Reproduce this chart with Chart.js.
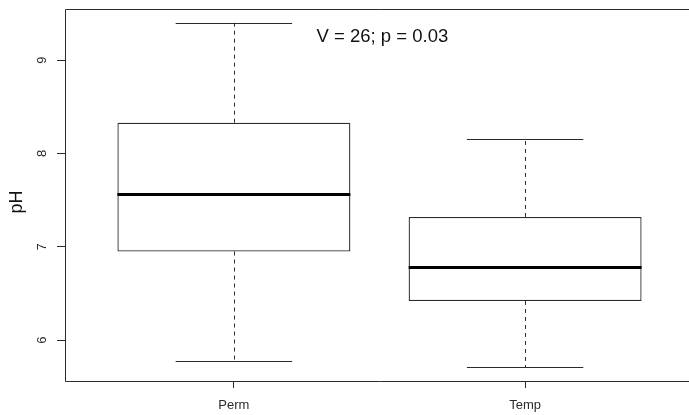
<!DOCTYPE html>
<html>
<head>
<meta charset="utf-8">
<title>pH by site type</title>
<script src="https://cdn.jsdelivr.net/npm/chart.js@4/dist/chart.umd.min.js"></script>
<style>
    html, body {
        margin: 0;
        padding: 0;
        background: #ffffff;
        overflow: hidden;
    }
    .plot-wrap {
        width: 689px;
        height: 415px;
        overflow: hidden;
    }
    #phChart {
        display: block;
    }
</style>
</head>
<body>
<div class="plot-wrap">
    <canvas id="phChart" width="700" height="415"></canvas>
</div>
<script>
// Five-number summaries per group
const groups = ['Perm', 'Temp'];
const whiskerLow = [5.78, 5.71];
const lowerQuartile = [6.95, 6.42];
const medians = [7.57, 6.78];
const upperQuartile = [8.33, 7.32];
const whiskerHigh = [9.40, 8.15];
const yTicks = [6, 7, 8, 9];
const testLabel = 'V = 26; p = 0.03';
const testLabelAt = [1.51, 9.25];

const FONT = "'Liberation Sans', Arial, sans-serif";
const INK = '#2b2b2b';

document.addEventListener('DOMContentLoaded', function() {
    // R-style axis limits: data range padded by 4%
    const lo = Math.min(...whiskerLow);
    const hi = Math.max(...whiskerHigh);
    const yPad = (hi - lo) * 0.04;
    const xPad = groups.length * 0.04;

    const boxData = groups.map((g, i) => ({ x: i + 1, y: [lowerQuartile[i], upperQuartile[i]] }));

    // Whiskers, staples, medians, frame and labels
    const boxplotExtras = {
        id: 'boxplotExtras',
        afterDatasetsDraw(chart) {
            const ctx = chart.ctx;
            const xs = chart.scales.x;
            const ys = chart.scales.y;
            const area = chart.chartArea;

            ctx.save();
            groups.forEach((g, i) => {
                const pos = i + 1;
                const cx = Math.round(xs.getPixelForValue(pos)) + 0.5;
                const capL = xs.getPixelForValue(pos - 0.2);
                const capR = xs.getPixelForValue(pos + 0.2);
                const boxL = xs.getPixelForValue(pos - 0.4);
                const boxR = xs.getPixelForValue(pos + 0.4);

                // dashed whiskers
                ctx.strokeStyle = INK;
                ctx.lineWidth = 1;
                ctx.setLineDash([4, 4]);
                ctx.beginPath();
                ctx.moveTo(cx, ys.getPixelForValue(upperQuartile[i]));
                ctx.lineTo(cx, ys.getPixelForValue(whiskerHigh[i]));
                ctx.moveTo(cx, ys.getPixelForValue(lowerQuartile[i]));
                ctx.lineTo(cx, ys.getPixelForValue(whiskerLow[i]));
                ctx.stroke();

                // staples
                ctx.setLineDash([]);
                ctx.beginPath();
                [whiskerHigh[i], whiskerLow[i]].forEach(v => {
                    const y = Math.round(ys.getPixelForValue(v)) + 0.5;
                    ctx.moveTo(capL, y);
                    ctx.lineTo(capR, y);
                });
                ctx.stroke();

                // median
                ctx.strokeStyle = '#000000';
                ctx.lineWidth = 3;
                ctx.beginPath();
                const my = Math.round(ys.getPixelForValue(medians[i]));
                ctx.moveTo(boxL, my + 0.5);
                ctx.lineTo(boxR, my + 0.5);
                ctx.stroke();
            });

            // plot frame (right side falls outside the visible page)
            const fl = Math.round(area.left) + 0.5;
            const ft = Math.round(area.top) + 0.5;
            const fb = Math.round(area.bottom) + 0.5;
            ctx.strokeStyle = INK;
            ctx.lineWidth = 1;
            ctx.beginPath();
            ctx.moveTo(area.right, ft);
            ctx.lineTo(fl, ft);
            ctx.lineTo(fl, fb);
            ctx.lineTo(area.right, fb);
            ctx.stroke();

            // test statistic
            ctx.fillStyle = '#111111';
            ctx.font = '18.5px ' + FONT;
            ctx.textAlign = 'center';
            ctx.textBaseline = 'middle';
            ctx.fillText(testLabel, xs.getPixelForValue(testLabelAt[0]), ys.getPixelForValue(testLabelAt[1]));

            // y axis title
            ctx.font = '18px ' + FONT;
            ctx.translate(17, 202);
            ctx.rotate(-Math.PI / 2);
            ctx.fillText('pH', 0, 0);
            ctx.restore();
        }
    };

    const phCtx = document.getElementById('phChart').getContext('2d');
    const phChart = new Chart(phCtx, {
        type: 'bar',
        data: {
            datasets: [
                {
                    label: 'pH',
                    data: boxData,
                    backgroundColor: '#ffffff',
                    borderColor: INK,
                    borderWidth: 1.3,
                    borderSkipped: false,
                    barPercentage: 0.8,
                    categoryPercentage: 1
                }
            ]
        },
        options: {
            responsive: false,
            animation: false,
            layout: {
                padding: { left: 0, top: 9, right: 6, bottom: 0 }
            },
            plugins: {
                legend: { display: false },
                tooltip: { enabled: false }
            },
            scales: {
                x: {
                    type: 'linear',
                    offset: false,
                    min: 1 - 0.5 - xPad,
                    max: groups.length + 0.5 + xPad,
                    border: { display: false },
                    grid: {
                        offset: false,
                        drawOnChartArea: false,
                        tickLength: 7,
                        color: INK
                    },
                    afterBuildTicks: function(scale) {
                        scale.ticks = groups.map((g, i) => ({ value: i + 1 }));
                    },
                    afterFit: function(scale) {
                        scale.height = 34;
                        scale.paddingLeft = 0;
                        scale.paddingRight = 0;
                    },
                    ticks: {
                        autoSkip: false,
                        maxRotation: 0,
                        padding: 10,
                        color: INK,
                        font: { family: FONT, size: 13 },
                        callback: function(value) {
                            return groups[value - 1];
                        }
                    }
                },
                y: {
                    min: lo - yPad,
                    max: hi + yPad,
                    border: { display: false },
                    grid: {
                        drawOnChartArea: false,
                        tickLength: 8,
                        color: INK
                    },
                    afterBuildTicks: function(scale) {
                        scale.ticks = yTicks.map(v => ({ value: v }));
                    },
                    afterFit: function(scale) {
                        scale.width = 65;
                        scale.paddingTop = 0;
                        scale.paddingBottom = 0;
                    },
                    ticks: {
                        minRotation: 90,
                        maxRotation: 90,
                        crossAlign: 'center',
                        padding: 11,
                        color: INK,
                        font: { family: FONT, size: 13 }
                    }
                }
            }
        },
        plugins: [boxplotExtras]
    });
});
</script>
</body>
</html>
